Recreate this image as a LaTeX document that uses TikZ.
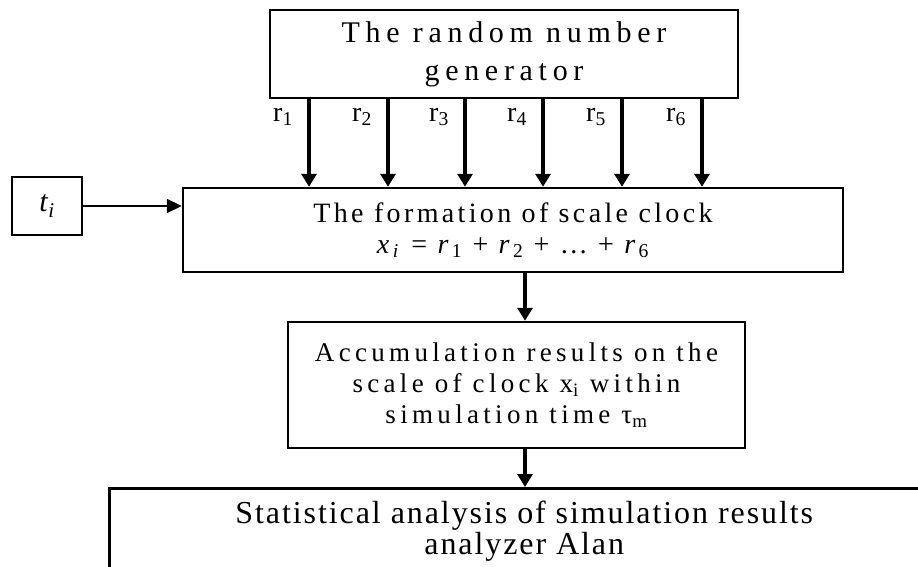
\documentclass[tikz,border=0pt]{standalone}
\usepackage{fontspec}
\setmainfont{Liberation Serif}
\newfontfamily\fgen[LetterSpace=19]{Liberation Serif}
\newfontfamily\fform[LetterSpace=12]{Liberation Serif}
\newfontfamily\facc[LetterSpace=16]{Liberation Serif}
\newfontfamily\fstat[LetterSpace=6]{Liberation Serif}
\usetikzlibrary{arrows.meta}
\tikzset{
  blk/.style={draw, line width=2.5pt, inner sep=0pt, align=center},
  arr/.style={line width=3.5pt, -{Triangle[width=15pt,length=13pt]}},
  thinarr/.style={line width=2.2pt, -{Triangle[width=14pt,length=15pt]}},
  rlab/.style={font=\fontsize{28}{30}\selectfont, inner sep=0pt}
}
\begin{document}
\begin{tikzpicture}[x=1pt,y=-1pt]
\useasboundingbox (0,0) rectangle (918,567);
\node[blk, minimum width=468pt, minimum height=88pt,
  font=\fgen\fontsize{30}{38}\selectfont] (gen) at (504,54) {The random number\\generator};
\node[blk, minimum width=70pt, minimum height=58pt,
  font=\fontsize{30}{30}\selectfont] (ti) at (47,206) {\textit{t}\textsubscript{\textit{i}}};
\node[blk, minimum width=660pt, minimum height=84pt,
  font=\fform\fontsize{28}{31}\selectfont] (form) at (513,230)
  {The formation of scale clock\\
   \textit{x}\textsubscript{\textit{i}} = \textit{r}\textsubscript{1} + \textit{r}\textsubscript{2} + \dots{} + \textit{r}\textsubscript{6}};
\node[blk, minimum width=457pt, minimum height=126pt,
  font=\facc\fontsize{27}{31}\selectfont] (acc) at (516.5,385)
  {Accumulation results on the\\scale of clock x\textsubscript{i} within\\simulation time τ\textsubscript{m}};
\node[blk, anchor=north west, minimum width=830pt, minimum height=86pt,
  font=\fstat\fontsize{32}{31}\selectfont] (stat) at (108,487)
  {Statistical analysis of simulation results\\analyzer Alan};
\foreach \i/\x in {1/309,2/388,3/465,4/543,5/622,6/702}{
  \coordinate (c\i) at (\x,0);
  \draw[arr] (gen.south -| c\i) -- (form.north -| c\i);
  \node[rlab] (r\i) at (\x-26,117) {r\textsubscript{\i}};
}
\coordinate (cd) at (525,0);
\draw[thinarr] (ti.east) -- (form.west |- ti.east);
\draw[arr] (form.south -| cd) -- (acc.north -| cd);
\draw[arr] (acc.south -| cd) -- (stat.north -| cd);
\end{tikzpicture}
\end{document}
